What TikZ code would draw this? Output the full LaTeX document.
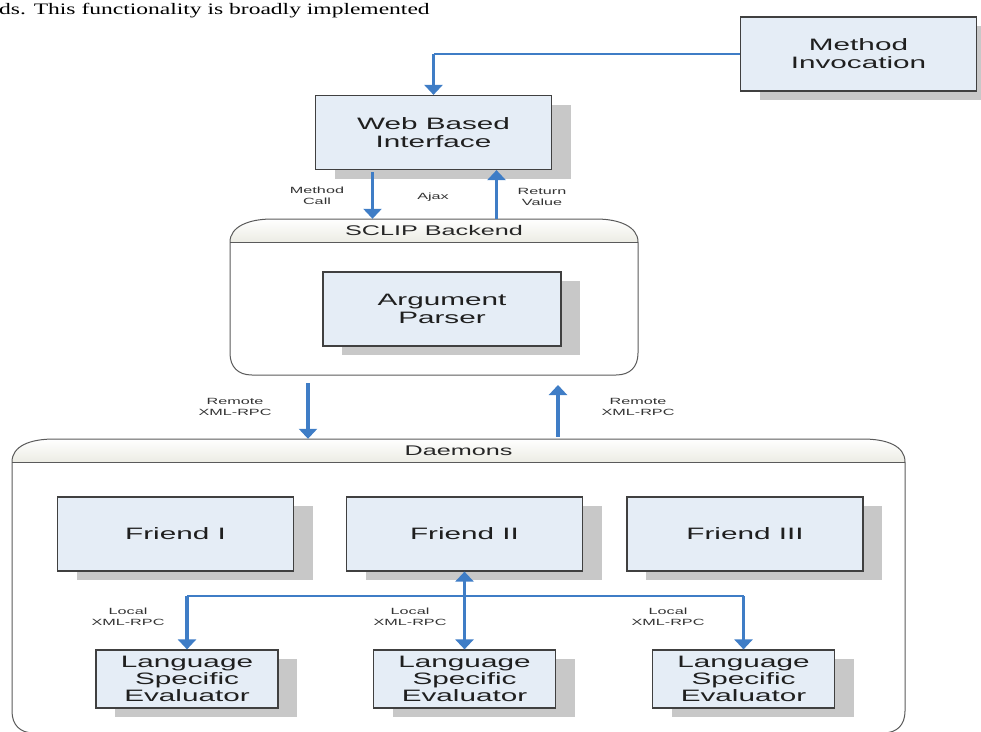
\documentclass[tikz,border=0pt]{standalone}
\usepackage{fontspec}
\setmainfont{Liberation Sans}
\newfontfamily\diagfont[FakeStretch=1.8]{Liberation Sans}
\newfontfamily\pagefont[FakeStretch=1.47]{Liberation Serif}
\usepackage{tikz}
\usetikzlibrary{positioning,arrows.meta,shadows,calc}
\definecolor{boxblue}{HTML}{E5EDF6}
\definecolor{arrowblue}{HTML}{3F7DC6}
\definecolor{shadowgray}{HTML}{C8C8C8}
\definecolor{framegray}{HTML}{5A5A5A}
\definecolor{barbottom}{HTML}{ECECE4}

\begin{document}
\begin{tikzpicture}[
  x=1pt, y=-1pt,
  block/.style={draw=black!75,line width=1.2pt,fill=boxblue,align=center,inner sep=0pt,
    text=black!88,font=\diagfont\fontsize{16.5}{18}\selectfont,
    drop shadow={shadow xshift=19pt,shadow yshift=-9pt,fill=shadowgray,opacity=1}},
  bigblock/.style={block,minimum width=236,minimum height=74},
  evalblock/.style={block,minimum width=182,minimum height=58,font=\diagfont\fontsize{16.5}{17}\selectfont},
  bartitle/.style={inner sep=0pt,minimum height=23,text=black!85,font=\diagfont\fontsize{14}{16}\selectfont},
  tag/.style={inner sep=0pt,align=center,text=black!80,font=\diagfont\fontsize{9}{10.5}\selectfont},
  frame/.style={draw=framegray,line width=1pt},
  titlebar/.style={top color=white,bottom color=barbottom},
  flow/.style={draw=arrowblue,line width=3.4pt,-{Triangle[width=18pt,length=10pt]}},
  flowboth/.style={flow,{Triangle[width=18pt,length=10pt]}-{Triangle[width=18pt,length=10pt]}},
  wire/.style={draw=arrowblue,line width=2.2pt}
]
\useasboundingbox (0,0) rectangle (981,731);

% running text of the page above the figure
\node[anchor=base west,inner sep=0pt,text=black,font=\pagefont\fontsize{16}{18}\selectfont] (pagetext) at (-1,14) {ds. This functionality is broadly implemented};

% SCLIP backend container
\shade[titlebar] (230,242) .. controls (230,227) and (248,219) .. (272,219) -- (596,219) .. controls (620,219) and (638,227) .. (638,242) -- cycle;
\draw[frame] (230,242) .. controls (230,227) and (248,219) .. (272,219) -- (596,219) .. controls (620,219) and (638,227) .. (638,242)
  -- (638,353) .. controls (638,367) and (630,375) .. (616,375) -- (252,375) .. controls (238,375) and (230,367) .. (230,353) -- cycle;
\draw[frame] (230,242) -- (638,242);
\node[bartitle,minimum width=408] (sclip) at (434,230.5) {SCLIP Backend};
\coordinate (sclipbase) at (434,375);

% daemons container
\shade[titlebar] (12,462) .. controls (12,446) and (30,439) .. (54,439) -- (863,439) .. controls (887,439) and (905,446) .. (905,462) -- cycle;
\draw[frame] (12,462) .. controls (12,446) and (30,439) .. (54,439) -- (863,439) .. controls (887,439) and (905,446) .. (905,462)
  -- (905,711) .. controls (905,725) and (897,733) .. (883,733) -- (34,733) .. controls (20,733) and (12,725) .. (12,711) -- cycle;
\draw[frame] (12,462) -- (905,462);
\node[bartitle,minimum width=893] (daemons) at (458.5,450.5) {Daemons};

% boxes
\node[bigblock] (mi) at (858.5,54) {Method\\Invocation};
\node[bigblock] (wbi) at (433.5,132.5) {Web Based\\Interface};
\node[bigblock,minimum width=238] (ap) at (442,309) {Argument\\Parser};
\node[bigblock] (f1) at (175.5,534) {Friend I};
\node[bigblock] (f2) at (464.5,534) {Friend II};
\node[bigblock] (f3) at (745,534) {Friend III};
\node[evalblock] (ev1) at (187,679) {Language\\Specific\\Evaluator};
\node[evalblock] (ev2) at (464.5,679) {Language\\Specific\\Evaluator};
\node[evalblock] (ev3) at (743.5,679) {Language\\Specific\\Evaluator};

% invocation into the web interface
\coordinate (turn) at (wbi.north |- mi.west);
\draw[wire,line width=1.6pt] (mi.west) -- (turn);
\draw[flow] (turn) -- (wbi.north);

% ajax calls
\coordinate (callx) at ([xshift=-61pt]wbi.south);
\coordinate (retx) at ([xshift=63pt]wbi.south);
\draw[flow,shorten <=2pt] (callx) -- (callx |- sclip.north);
\draw[flow] (retx |- sclip.north) -- (retx);

% remote xml-rpc
\coordinate (downx) at ([xshift=-126pt]sclipbase);
\coordinate (upx) at ([xshift=124pt]sclipbase);
\draw[flow,shorten <=8pt] (downx) -- (downx |- daemons.north);
\draw[flow,shorten <=2pt,shorten >=10pt] (upx |- daemons.north) -- (upx);

% local xml-rpc bus
\coordinate (bus) at (464.5,596);
\draw[wire] (ev1.north |- bus) -- (ev3.north |- bus);
\draw[flow] (ev1.north |- bus) -- (ev1.north);
\draw[flow] (ev3.north |- bus) -- (ev3.north);
\draw[flowboth] (f2.south) -- (ev2.north);

% labels
\node[tag] (callnote) at (317,196) {Method\\Call};
\node[tag] (ajaxnote) at (433,197) {Ajax};
\node[tag] (retnote) at (542,197) {Return\\Value};
\node[tag] (remotein) at (235,407) {Remote\\XML-RPC};
\node[tag] (remoteout) at (638,407) {Remote\\XML-RPC};
\node[tag] (local1) at (128,617) {Local\\XML-RPC};
\node[tag] (local2) at (410,617) {Local\\XML-RPC};
\node[tag] (local3) at (668,617) {Local\\XML-RPC};
\end{tikzpicture}
\end{document}
